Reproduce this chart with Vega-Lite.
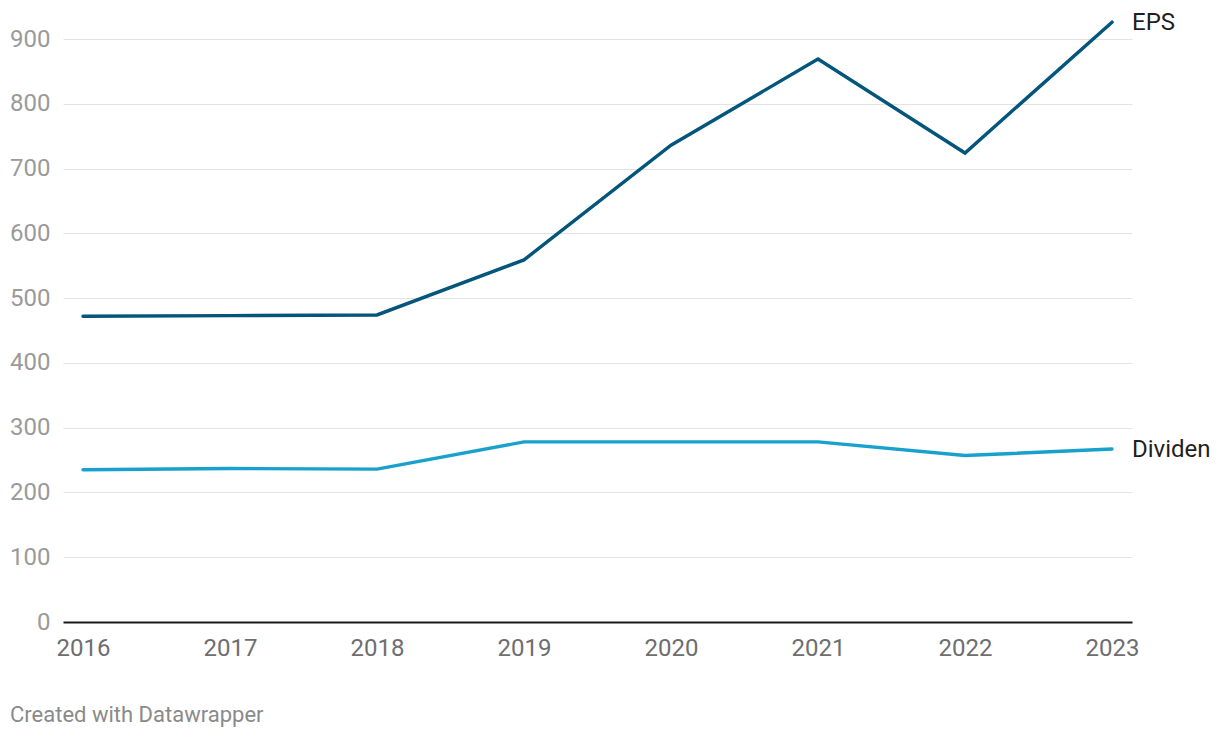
{
  "$schema": "https://vega.github.io/schema/vega-lite/v6.json",
  "width": 1069,
  "height": 583,
  "autosize": {"type": "none"},
  "padding": {"left": 63, "top": 39, "right": 88, "bottom": 116},
  "background": "white",
  "config": {
    "font": "Roboto",
    "view": {"stroke": null}
  },
  "title": {
    "text": "Created with Datawrapper",
    "orient": "bottom",
    "anchor": "start",
    "frame": "group",
    "dx": -53,
    "offset": 45,
    "fontSize": 22,
    "fontWeight": "normal",
    "color": "#8a8a8a",
    "font": "Roboto"
  },
  "data": {
    "values": [
      {"year": "2016", "series": "EPS", "value": 472},
      {"year": "2017", "series": "EPS", "value": 473},
      {"year": "2018", "series": "EPS", "value": 474},
      {"year": "2019", "series": "EPS", "value": 559},
      {"year": "2020", "series": "EPS", "value": 736},
      {"year": "2021", "series": "EPS", "value": 869},
      {"year": "2022", "series": "EPS", "value": 724},
      {"year": "2023", "series": "EPS", "value": 926},
      {"year": "2016", "series": "Dividen", "value": 235},
      {"year": "2017", "series": "Dividen", "value": 237},
      {"year": "2018", "series": "Dividen", "value": 236},
      {"year": "2019", "series": "Dividen", "value": 278},
      {"year": "2020", "series": "Dividen", "value": 278},
      {"year": "2021", "series": "Dividen", "value": 278},
      {"year": "2022", "series": "Dividen", "value": 257},
      {"year": "2023", "series": "Dividen", "value": 267}
    ]
  },
  "encoding": {
    "x": {
      "field": "year",
      "type": "ordinal",
      "sort": null,
      "scale": {"type": "point", "padding": 0.136},
      "axis": {
        "title": null,
        "labelAngle": 0,
        "ticks": false,
        "labelPadding": 14,
        "labelFontSize": 24,
        "labelColor": "#6e6e6e",
        "domainColor": "#1a1a1a",
        "domainWidth": 2,
        "grid": false,
        "labelFont": "Roboto"
      }
    },
    "y": {
      "field": "value",
      "type": "quantitative",
      "scale": {"domain": [0, 900], "nice": false, "zero": true},
      "axis": {
        "title": null,
        "values": [0, 100, 200, 300, 400, 500, 600, 700, 800, 900],
        "ticks": false,
        "domain": false,
        "labelPadding": 13,
        "labelFontSize": 24,
        "labelColor": "#9a9a9a",
        "gridColor": "#e3e3e3",
        "gridWidth": 1,
        "labelFont": "Roboto"
      }
    },
    "color": {
      "field": "series",
      "type": "nominal",
      "scale": {"domain": ["EPS", "Dividen"], "range": ["#03557c", "#18a1cd"]},
      "legend": null
    }
  },
  "layer": [
    {
      "mark": {"type": "line", "strokeWidth": 3.4, "strokeCap": "round", "strokeJoin": "miter"}
    },
    {
      "transform": [{"filter": "datum.year == '2023'"}],
      "mark": {"type": "text", "align": "left", "baseline": "middle", "dx": 20, "dy": 1, "fontSize": 24, "font": "Roboto", "color": "#1f1f1f"},
      "encoding": {
        "text": {"field": "series"},
        "color": {"value": "#1f1f1f"}
      }
    }
  ]
}
